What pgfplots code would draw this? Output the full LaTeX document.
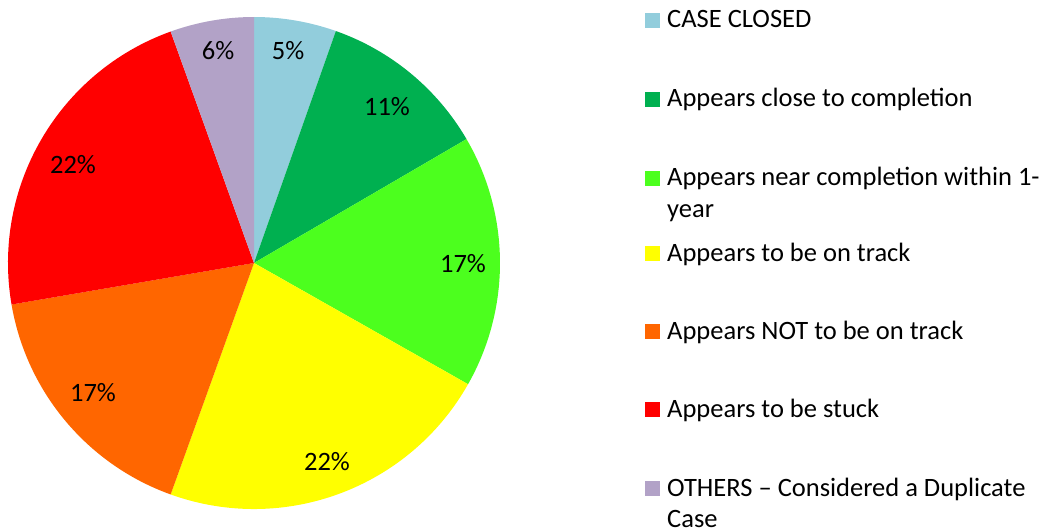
\documentclass[border=0pt]{standalone}
\usepackage{pgfplots}
\pgfplotsset{compat=1.18}
\usepackage{fontspec}
\setmainfont{Carlito}
\definecolor{cClosed}{RGB}{146,205,220}
\definecolor{cClose}{RGB}{0,176,80}
\definecolor{cNear}{RGB}{76,255,30}
\definecolor{cTrack}{RGB}{255,255,0}
\definecolor{cNot}{RGB}{255,102,0}
\definecolor{cStuck}{RGB}{255,0,0}
\definecolor{cOther}{RGB}{178,162,199}
% slice shares (percent), clockwise from 12 o'clock
\def\vA{5.4}\def\vB{11.2}\def\vC{16.6}\def\vD{22.3}\def\vE{16.8}\def\vF{22.2}\def\vG{5.5}
\begin{document}
\begin{tikzpicture}[font=\fontsize{26.5pt}{31pt}\selectfont]
\begin{axis}[
  width=1047pt, height=531pt, scale only axis,
  xmin=0, xmax=1047, ymin=0, ymax=531,
  hide axis, clip=false,
]
\pgfmathsetmacro{\cA}{0}
\pgfmathsetmacro{\cB}{\cA+\vA}
\pgfmathsetmacro{\cC}{\cB+\vB}
\pgfmathsetmacro{\cD}{\cC+\vC}
\pgfmathsetmacro{\cE}{\cD+\vD}
\pgfmathsetmacro{\cF}{\cE+\vE}
\pgfmathsetmacro{\cG}{\cF+\vF}
\pgfmathsetmacro{\cH}{\cG+\vG}
\edef\temp{\noexpand\fill[cClosed] (axis cs:254,268) -- ++({90-3.6*\cA}:246pt) arc[start angle={90-3.6*\cA}, end angle={90-3.6*\cB}, radius=246pt] -- cycle;}\temp
\edef\temp{\noexpand\fill[cClose] (axis cs:254,268) -- ++({90-3.6*\cB}:246pt) arc[start angle={90-3.6*\cB}, end angle={90-3.6*\cC}, radius=246pt] -- cycle;}\temp
\edef\temp{\noexpand\fill[cNear] (axis cs:254,268) -- ++({90-3.6*\cC}:246pt) arc[start angle={90-3.6*\cC}, end angle={90-3.6*\cD}, radius=246pt] -- cycle;}\temp
\edef\temp{\noexpand\fill[cTrack] (axis cs:254,268) -- ++({90-3.6*\cD}:246pt) arc[start angle={90-3.6*\cD}, end angle={90-3.6*\cE}, radius=246pt] -- cycle;}\temp
\edef\temp{\noexpand\fill[cNot] (axis cs:254,268) -- ++({90-3.6*\cE}:246pt) arc[start angle={90-3.6*\cE}, end angle={90-3.6*\cF}, radius=246pt] -- cycle;}\temp
\edef\temp{\noexpand\fill[cStuck] (axis cs:254,268) -- ++({90-3.6*\cF}:246pt) arc[start angle={90-3.6*\cF}, end angle={90-3.6*\cG}, radius=246pt] -- cycle;}\temp
\edef\temp{\noexpand\fill[cOther] (axis cs:254,268) -- ++({90-3.6*\cG}:246pt) arc[start angle={90-3.6*\cG}, end angle={90-3.6*\cH}, radius=246pt] -- cycle;}\temp
% percentage labels
\node at (axis cs:288,480) {5\%};
\node at (axis cs:387,424) {11\%};
\node at (axis cs:463,267) {17\%};
\node at (axis cs:327,69) {22\%};
\node at (axis cs:93,138) {17\%};
\node at (axis cs:73,366) {22\%};
\node at (axis cs:218,480) {6\%};
% legend
\fill[cClosed] (axis cs:645,503) rectangle (axis cs:660,518);
\node[anchor=base west, inner sep=0pt] at (axis cs:667,503) {CASE CLOSED};
\fill[cClose] (axis cs:645,424) rectangle (axis cs:660,439);
\node[anchor=base west, inner sep=0pt] at (axis cs:667,424) {Appears close to completion};
\fill[cNear] (axis cs:645,345) rectangle (axis cs:660,360);
\node[anchor=base west, inner sep=0pt] at (axis cs:667,345) {Appears near completion within 1-};
\node[anchor=base west, inner sep=0pt] at (axis cs:667,314) {year};
\fill[cTrack] (axis cs:645,270) rectangle (axis cs:660,285);
\node[anchor=base west, inner sep=0pt] at (axis cs:667,270) {Appears to be on track};
\fill[cNot] (axis cs:645,192) rectangle (axis cs:660,207);
\node[anchor=base west, inner sep=0pt] at (axis cs:667,192) {Appears NOT to be on track};
\fill[cStuck] (axis cs:645,114) rectangle (axis cs:660,129);
\node[anchor=base west, inner sep=0pt] at (axis cs:667,114) {Appears to be stuck};
\fill[cOther] (axis cs:645,35) rectangle (axis cs:660,50);
\node[anchor=base west, inner sep=0pt] at (axis cs:667,35) {OTHERS -- Considered a Duplicate};
\node[anchor=base west, inner sep=0pt] at (axis cs:667,4) {Case};
\end{axis}
\pgfresetboundingbox
\path[use as bounding box] (current axis.south west) rectangle (current axis.north east);
\end{tikzpicture}
\end{document}
